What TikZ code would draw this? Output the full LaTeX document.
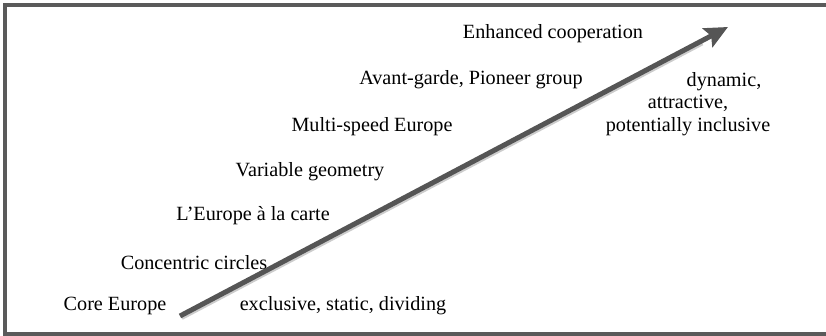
\documentclass[tikz,border=0pt]{standalone}
\usepackage{fontspec}
\setmainfont{Liberation Serif}
\usetikzlibrary{arrows.meta,calc}
\definecolor{framegray}{HTML}{5A5A5A}
\definecolor{arrowgray}{HTML}{555555}
\begin{document}
\begin{tikzpicture}[x=1pt,y=-1pt,
  lbl/.style={inner sep=0pt,font=\fontsize{20.2}{22.5}\selectfont,text=black},
  bigarrow/.style={line width=5pt,draw=arrowgray,-{Stealth[length=23pt,width=21pt,inset=4pt]}},
  arrowshade/.style={line width=5pt,draw=gray!40}]
\useasboundingbox (0,0) rectangle (826,336);
\draw[framegray,line width=4pt] (830,5.5) -- (5,5.5) -- (5,334) -- (830,334);
\node[lbl] (enh) at (553,34) {Enhanced cooperation};
\node[lbl] (avg) at (471,80) {Avant-garde, Pioneer group};
\node[lbl] (msp) at (372,127) {Multi-speed Europe};
\node[lbl] (vgeo) at (310,172) {Variable geometry};
\node[lbl] (carte) at (253,216) {L’Europe à la carte};
\node[lbl] (conc) at (194,263) {Concentric circles};
\node[lbl] (core) at (115,306) {Core Europe};
\node[lbl] (excl) at (343,306) {exclusive, static, dividing};
\node[lbl,align=center] (dyn) at (688,104) {\hspace*{72pt}dynamic,\\attractive,\\potentially inclusive};
\coordinate (start) at (180,316);
\coordinate (tip) at (728,27);
\coordinate (shadeend) at ($(start)!0.95!(tip)$);
\draw[arrowshade] ([shift={(1.5,1.5)}]start) -- ([shift={(1.5,1.5)}]shadeend);
\draw[bigarrow] (start) -- (tip);
\end{tikzpicture}
\end{document}
